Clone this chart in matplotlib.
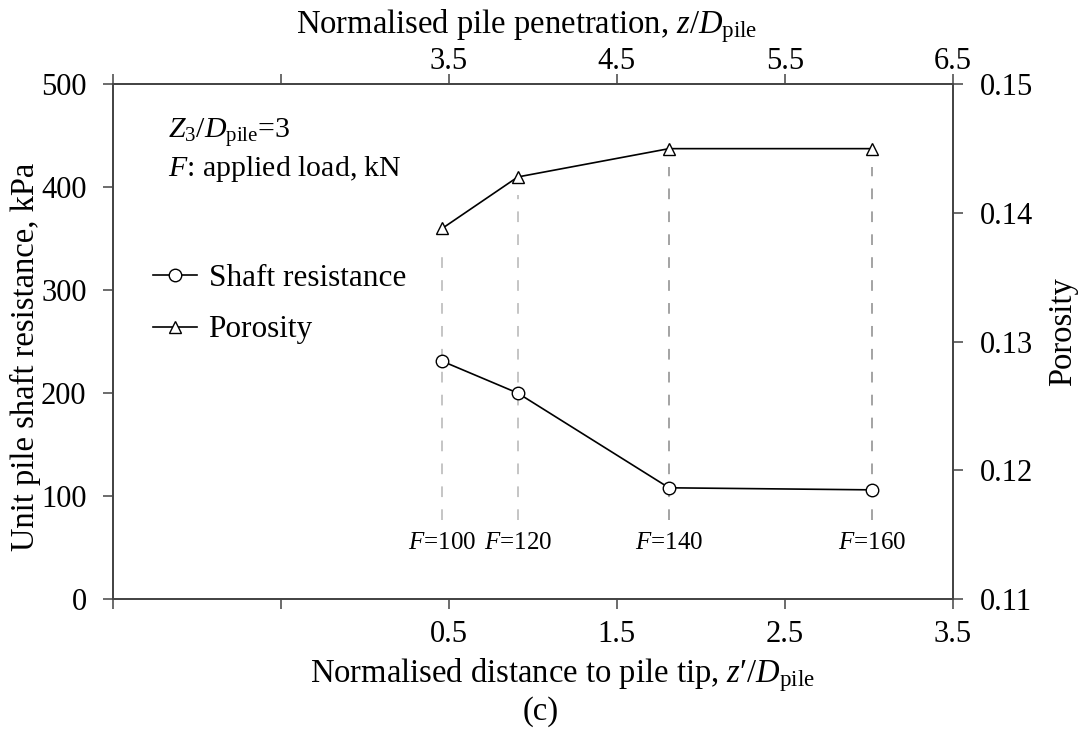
import matplotlib
matplotlib.use("Agg")
import matplotlib.pyplot as plt
from matplotlib.lines import Line2D

plt.rcParams["font.family"] = "Liberation Serif"
plt.rcParams["mathtext.fontset"] = "custom"
plt.rcParams["mathtext.rm"] = "Liberation Serif"
plt.rcParams["mathtext.it"] = "Liberation Serif:italic"

# data
dist_tip = [0.46, 0.91, 1.81, 3.02]          # z'/D_pile (bottom axis)
shaft_res = [231, 200, 108, 106]             # kPa
porosity = [0.1388, 0.1428, 0.1450, 0.1450]
loads = [100, 120, 140, 160]                 # kN
top_offset = 3.0                              # z/D_pile = z'/D_pile + 3

x_ticks = [-1.5, -0.5, 0.5, 1.5, 2.5, 3.5]
x_ticklabels = ["", "", "0.5", "1.5", "2.5", "3.5"]
top_ticklabels = ["", "", "3.5", "4.5", "5.5", "6.5"]
y_ticks = [0, 100, 200, 300, 400, 500]
p_ticks = [0.11, 0.12, 0.13, 0.14, 0.15]
p_ticklabels = ["0.11", "0.12", "0.13", "0.14", "0.15"]

fig = plt.figure(figsize=(10.81, 7.30), dpi=100)
ax = fig.add_axes([0.1045, 0.1795, 0.777, 0.7050])
ax2 = ax.twinx()
ax3 = ax.twiny()

spine_c = "#444444"
fs_tick = 22
fs_lab = 23.5

ax.set_xlim(-1.5, 3.5)
ax.set_ylim(0, 500)
ax2.set_ylim(0.11, 0.15)
ax3.set_xlim(-1.5 + top_offset, 3.5 + top_offset)

# dashed guide lines at each load step
dash_cols = ["#b5b5b5", "#b5b5b5", "#8a8a8a", "#8a8a8a"]
for x, p, c in zip(dist_tip, porosity, dash_cols):
    top = (p - 0.11) / 0.04 * 500 - 18
    ax.plot([x, x], [77, top], color=c, lw=1.1, dashes=(7, 8), zorder=1)

ax.plot(dist_tip, shaft_res, color="black", lw=1.2, marker="o", ms=9,
        mfc="white", mec="black", mew=1.0, zorder=3)
ax2.plot(dist_tip, porosity, color="black", lw=1.2, marker="^", ms=9,
         mfc="white", mec="black", mew=1.0, zorder=3)

for x, f in zip(dist_tip, loads):
    ax.text(x, 54, f"$F$={f}", ha="center", va="center", fontsize=18)

for a in (ax, ax2, ax3):
    for s in a.spines.values():
        s.set_color(spine_c)
        s.set_linewidth(1.1)
    a.tick_params(direction="out", length=7, width=1.1, color=spine_c,
                  labelsize=fs_tick)
ax.tick_params(axis="x", pad=8.5)
ax.tick_params(axis="y", pad=12)
ax2.tick_params(axis="y", pad=12.5)
ax3.tick_params(axis="x", pad=-1)

ax.set_xticks(x_ticks)
ax.set_xticklabels(x_ticklabels)
ax.set_yticks(y_ticks)
ax3.set_xticks([t + top_offset for t in x_ticks])
ax3.set_xticklabels(top_ticklabels)
ax2.set_yticks(p_ticks)
ax2.set_yticklabels(p_ticklabels)

ax.set_ylabel("Unit pile shaft resistance, kPa", fontsize=fs_lab, labelpad=0,
              y=0.47)
ax2.set_ylabel("Porosity", fontsize=fs_lab, labelpad=10, y=0.519)
ax.set_xlabel("Normalised distance to pile tip, $z\u2032/D_\\mathrm{pile}$",
              fontsize=fs_lab, labelpad=5, x=0.5345)
ax3.set_xlabel("Normalised pile penetration, $z/D_\\mathrm{pile}$",
               fontsize=fs_lab, labelpad=10, x=0.493)

ax.text(0.066, 0.907, "$Z_3/D_\\mathrm{pile}$=3", transform=ax.transAxes,
        fontsize=21.5, ha="left", va="center")
ax.text(0.066, 0.835, "$F$: applied load, kN", transform=ax.transAxes,
        fontsize=21.5, ha="left", va="center")

handles = [
    Line2D([], [], color="black", lw=1.2, marker="o", ms=9, mfc="white", mew=1.0),
    Line2D([], [], color="black", lw=1.2, marker="^", ms=9, mfc="white", mew=1.0),
]
ax.legend(handles, ["Shaft resistance", "Porosity"], loc="center left",
          bbox_to_anchor=(0.0476, 0.573), frameon=False, fontsize=22.5,
          handlelength=1.4, handletextpad=0.38, labelspacing=0.73,
          borderpad=0, borderaxespad=0)

fig.text(0.5, 0.025, "(c)", ha="center", va="center", fontsize=fs_lab)

fig.savefig("out.png", dpi=100)
